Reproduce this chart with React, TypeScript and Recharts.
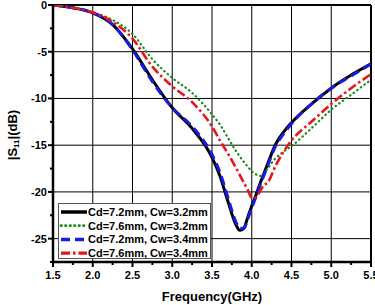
import React from "react";
import {
  LineChart,
  Line,
  XAxis,
  YAxis,
  ReferenceLine,
  Legend,
} from "recharts";

const FREQ = [
  1.5, 1.75, 2.0, 2.25, 2.5, 2.75, 3.0, 3.25, 3.5, 3.6, 3.7, 3.8, 3.85, 3.9,
  3.95, 4.0, 4.05, 4.1, 4.15, 4.2, 4.3, 4.4, 4.5, 4.75, 5.0, 5.25, 5.5,
];

const CD72_CW32 = [
  0, -0.3, -0.85, -2.1, -4.7, -8.0, -11.0, -13.2, -16.3, -18.3, -21.0, -23.5,
  -24.1, -23.9, -22.7, -21.5, -20.4, -19.2, -18.1, -17.0, -14.9, -13.6, -12.6,
  -10.6, -8.9, -7.5, -6.3,
];
const CD76_CW32 = [
  0, -0.3, -0.8, -1.6, -3.1, -5.8, -7.8, -9.4, -11.7, -12.8, -14.2, -15.6,
  -16.2, -16.8, -17.3, -17.8, -18.1, -18.3, -18.1, -17.5, -16.4, -15.7, -15.1,
  -13.2, -11.2, -9.6, -8.0,
];
const CD72_CW34 = [
  0, -0.3, -0.85, -2.1, -4.8, -8.2, -11.0, -13.0, -16.0, -17.9, -20.6, -23.2,
  -23.9, -23.9, -22.9, -21.7, -20.6, -19.4, -18.3, -17.2, -15.1, -13.8, -12.7,
  -10.6, -8.9, -7.6, -6.3,
];
const CD76_CW34 = [
  0, -0.3, -0.8, -1.8, -3.6, -6.6, -8.7, -10.4, -13.0, -14.5, -15.9, -17.4,
  -18.2, -19.0, -19.8, -20.6, -20.6, -20.0, -19.3, -19.0, -17.2, -15.7, -14.5,
  -12.5, -10.6, -8.9, -7.4,
];

const X_MAJOR = [1.5, 2.0, 2.5, 3.0, 3.5, 4.0, 4.5, 5.0, 5.5];
const X_TICKS = [
  1.5, 1.75, 2.0, 2.25, 2.5, 2.75, 3.0, 3.25, 3.5, 3.75, 4.0, 4.25, 4.5, 4.75,
  5.0, 5.25, 5.5,
];
const Y_MAJOR = [0, -5, -10, -15, -20, -25];
const Y_TICKS = [0, -2.5, -5, -7.5, -10, -12.5, -15, -17.5, -20, -22.5, -25, -27.5];

const SERIES = [
  { key: "a", name: "Cd=7.2mm, Cw=3.2mm", values: CD72_CW32, color: "#000000", width: 3, dash: undefined as string | undefined, cap: "butt" },
  { key: "b", name: "Cd=7.6mm, Cw=3.2mm", values: CD76_CW32, color: "#1e8a1e", width: 2.2, dash: "0.5 4", cap: "round" },
  { key: "c", name: "Cd=7.2mm, Cw=3.4mm", values: CD72_CW34, color: "#1a1ae6", width: 3, dash: "9 5", cap: "butt" },
  { key: "d", name: "Cd=7.6mm, Cw=3.4mm", values: CD76_CW34, color: "#e8141e", width: 2.6, dash: "9 3 2.5 3", cap: "butt" },
];

const data = FREQ.map((f, i) => {
  const row: Record<string, number> = { f };
  SERIES.forEach((s) => (row[s.key] = s.values[i]));
  return row;
});

const FONT = "'Liberation Sans', Arial, sans-serif";

function XTick(props: any) {
  const { x, y, payload } = props;
  const major = X_MAJOR.includes(payload.value);
  return (
    <g>
      <line x1={x} x2={x} y1={y} y2={y + (major ? 5 : 3)} stroke="#000" strokeWidth={2} />
      {major && (
        <text x={x} y={y + 17} textAnchor="middle" fontSize={11} fontWeight="bold" fontFamily={FONT} fill="#000">
          {payload.value.toFixed(1)}
        </text>
      )}
    </g>
  );
}

function YTick(props: any) {
  const { x, y, payload } = props;
  const major = Y_MAJOR.includes(payload.value);
  return (
    <g>
      <line x1={x} x2={x - (major ? 5 : 3)} y1={y} y2={y} stroke="#000" strokeWidth={2} />
      {major && (
        <text x={x - 6} y={y + 4} textAnchor="end" fontSize={11} fontWeight="bold" fontFamily={FONT} fill="#000">
          {payload.value}
        </text>
      )}
    </g>
  );
}

function LegendBox() {
  return (
    <svg width={153} height={56} style={{ display: "block" }}>
      <rect x={0.5} y={0.5} width={152} height={55} fill="#fff" stroke="#555" strokeWidth={1} />
      {SERIES.map((s, i) => {
        const cy = 9 + i * 13.7;
        return (
          <g key={s.key}>
            <line
              x1={3}
              x2={29}
              y1={cy}
              y2={cy}
              stroke={s.color}
              strokeWidth={s.width + 0.5}
              strokeDasharray={s.dash}
              strokeLinecap={s.cap as any}
            />
            <text x={30} y={cy + 4} fontSize={11} fontWeight="bold" fontFamily={FONT} fill="#000">
              {s.name}
            </text>
          </g>
        );
      })}
    </svg>
  );
}

export default function App() {
  return (
    <div style={{ width: 375, height: 305, background: "#fff", position: "relative" }}>
      <style>{`body{margin:0}`}</style>
      <LineChart
        width={375}
        height={305}
        data={data}
        margin={{ top: 5, right: 4, left: 8, bottom: 18 }}
      >
        <XAxis
          dataKey="f"
          type="number"
          domain={[1.5, 5.5]}
          ticks={X_TICKS}
          interval={0}
          tick={<XTick />}
          tickLine={false}
          tickSize={0}
          tickMargin={0}
          height={25}
          axisLine={{ stroke: "#000", strokeWidth: 2.5 }}
          allowDataOverflow
          label={{
            content: () => (
              <text x={212} y={301} textAnchor="middle" fontSize={13} fontWeight="bold" fontFamily={FONT} fill="#000">
                Frequency(GHz)
              </text>
            ),
          }}
        />
        <YAxis
          type="number"
          domain={[-27.5, 0]}
          ticks={Y_TICKS}
          interval={0}
          tick={<YTick />}
          tickLine={false}
          tickSize={0}
          tickMargin={0}
          width={45}
          axisLine={{ stroke: "#000", strokeWidth: 2.5 }}
          allowDataOverflow
          label={{
            content: () => (
              <text
                x={17}
                y={135}
                transform="rotate(-90 17 135)"
                textAnchor="middle"
                fontSize={13}
                fontWeight="bold"
                fontFamily={FONT}
                fill="#000"
              >
                |S<tspan fontSize={8} dy={2}>11</tspan>
                <tspan dy={-2}>|(dB)</tspan>
              </text>
            ),
          }}
        />
        {X_MAJOR.slice(1, -1).map((v) => (
          <ReferenceLine key={"x" + v} x={v} stroke="#000" strokeWidth={1} ifOverflow="extendDomain" />
        ))}
        {Y_MAJOR.slice(1).map((v) => (
          <ReferenceLine key={"y" + v} y={v} stroke="#000" strokeWidth={1} />
        ))}
        <ReferenceLine x={5.5} stroke="#000" strokeWidth={2} />
        <ReferenceLine y={0} stroke="#000" strokeWidth={2} />
        {SERIES.map((s) => (
          <Line
            key={s.key}
            dataKey={s.key}
            name={s.name}
            type="monotone"
            stroke={s.color}
            strokeWidth={s.width}
            strokeDasharray={s.dash}
            strokeLinecap={s.cap as any}
            dot={false}
            activeDot={false}
            isAnimationActive={false}
          />
        ))}
        <Legend
          layout="horizontal"
          verticalAlign="middle"
          align="center"
          content={() => <LegendBox />}
          wrapperStyle={{ position: "absolute", left: 58, top: 203, width: 153, height: 56 }}
        />
      </LineChart>
    </div>
  );
}
